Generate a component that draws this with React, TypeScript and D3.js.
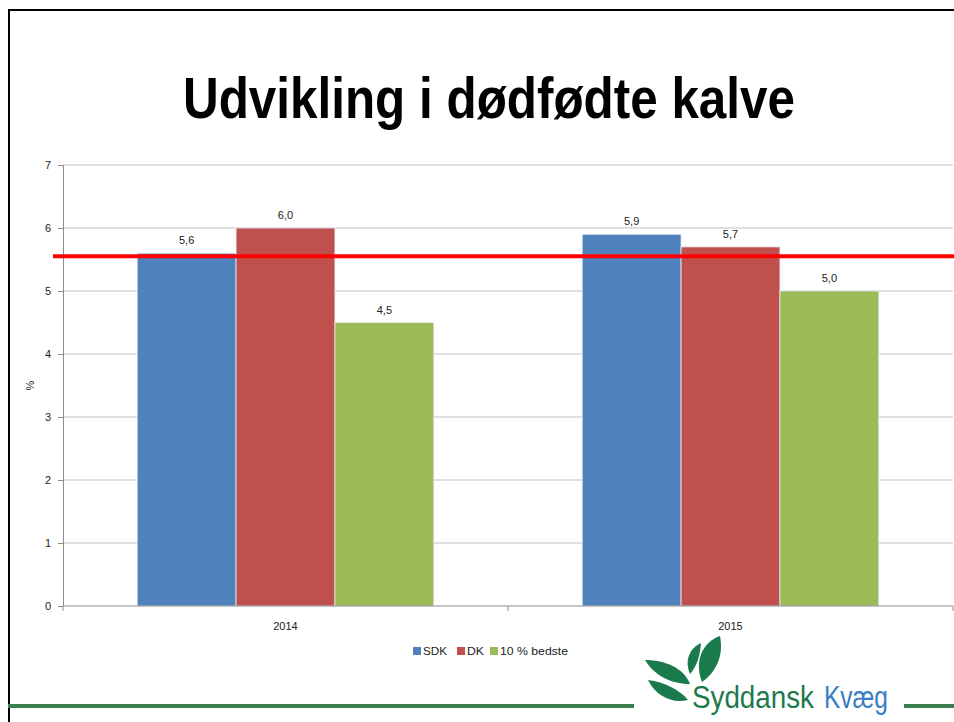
import React, { useRef, useEffect } from "react";
import * as d3 from "d3";

const categories = ["2014", "2015"];
const seriesNames = ["SDK", "DK", "10 % bedste"];
const sdkValues = [5.6, 5.9];
const dkValues = [6.0, 5.7];
const bestValues = [4.5, 5.0];
const yTicks = [0, 1, 2, 3, 4, 5, 6, 7];
const targetLine = 5.55;

const colors = ["#4f81bd", "#c0504d", "#9bbb59"];
const fmt = (v: number) => v.toFixed(1).replace(".", ",");

export default function App() {
  const ref = useRef<SVGSVGElement>(null);

  useEffect(() => {
    const width = 954, height = 722;
    const svg = d3.select(ref.current);
    svg.selectAll("*").remove();
    svg.attr("width", width).attr("height", height);

    svg.append("rect").attr("width", width).attr("height", height).attr("fill", "#fff");

    // slide frame
    svg.append("line").attr("x1", 8).attr("x2", width).attr("y1", 10).attr("y2", 10)
      .attr("stroke", "#000").attr("stroke-width", 2);
    svg.append("line").attr("x1", 9).attr("x2", 9).attr("y1", 10).attr("y2", height)
      .attr("stroke", "#000").attr("stroke-width", 2);

    svg.append("text")
      .attr("x", 183).attr("y", 118)
      .attr("textLength", 612).attr("lengthAdjust", "spacingAndGlyphs")
      .style("font-family", "'Liberation Sans', Arial, sans-serif")
      .style("font-weight", 700)
      .style("font-size", "58px")
      .attr("fill", "#000")
      .text("Udvikling i dødfødte kalve");

    const left = 63, right = 953, top = 165, bottom = 606;
    const x = d3.scaleBand().domain(categories).range([left, right]);
    const xs = d3.scaleBand().domain(seriesNames).range([0, x.bandwidth()]).paddingOuter(0.75).paddingInner(0);
    const y = d3.scaleLinear().domain([0, 7]).range([bottom, top]);

    const font = "'Liberation Sans', Arial, sans-serif";

    // grid
    svg.append("g").selectAll("line").data(yTicks.filter(t => t > 0)).join("line")
      .attr("x1", left).attr("x2", right)
      .attr("y1", d => y(d)).attr("y2", d => y(d))
      .attr("stroke", "#bfbfbf").attr("stroke-width", 1.2);

    // y axis
    const yAxis = svg.append("g").attr("transform", `translate(${left},0)`)
      .call(d3.axisLeft(y).tickValues(yTicks).tickSize(5).tickFormat(d => String(d)));
    yAxis.select(".domain").attr("stroke", "#8c8c8c");
    yAxis.selectAll(".tick line").attr("stroke", "#8c8c8c");
    yAxis.selectAll("text").attr("fill", "#222").style("font-family", font).style("font-size", "11px").attr("x", -12);

    svg.append("text")
      .attr("transform", `translate(34,${(top + bottom) / 2}) rotate(-90)`)
      .attr("text-anchor", "middle")
      .style("font-family", font).style("font-size", "11px").attr("fill", "#222")
      .text("%");

    // bars
    const data = [sdkValues, dkValues, bestValues];
    seriesNames.forEach((s, si) => {
      const g = svg.append("g");
      g.selectAll("rect").data(categories).join("rect")
        .attr("x", c => (x(c) as number) + (xs(s) as number))
        .attr("width", xs.bandwidth())
        .attr("y", (c, i) => y(data[si][i]))
        .attr("height", (c, i) => bottom - y(data[si][i]))
        .attr("fill", colors[si])
        .attr("stroke", "#e8eef5").attr("stroke-width", 0.8);
      g.selectAll("text").data(categories).join("text")
        .attr("x", c => (x(c) as number) + (xs(s) as number) + xs.bandwidth() / 2)
        .attr("y", (c, i) => y(data[si][i]) - 9)
        .attr("text-anchor", "middle")
        .style("font-family", font).style("font-size", "11px").attr("fill", "#222")
        .text((c, i) => fmt(data[si][i]));
    });

    // x axis
    const xAxis = svg.append("g").attr("transform", `translate(0,${bottom})`);
    xAxis.append("line").attr("x1", left).attr("x2", right).attr("stroke", "#8c8c8c");
    xAxis.selectAll("line.t").data([left, left + x.bandwidth(), right]).join("line")
      .attr("class", "t").attr("x1", d => d).attr("x2", d => d).attr("y1", 0).attr("y2", 5)
      .attr("stroke", "#8c8c8c");
    xAxis.selectAll("text").data(categories).join("text")
      .attr("x", c => (x(c) as number) + x.bandwidth() / 2).attr("y", 24)
      .attr("text-anchor", "middle")
      .style("font-family", font).style("font-size", "11px").attr("fill", "#222")
      .text(c => c);

    // target line
    svg.append("line").attr("x1", 53).attr("x2", width)
      .attr("y1", y(targetLine)).attr("y2", y(targetLine))
      .attr("stroke", "#ff0000").attr("stroke-width", 4);

    // legend
    const legendX = [413, 457, 490];
    const legendW = [24, 17, 68];
    const lg = svg.append("g");
    seriesNames.forEach((s, i) => {
      lg.append("rect").attr("x", legendX[i]).attr("y", 647).attr("width", 8).attr("height", 8).attr("fill", colors[i]);
      lg.append("text").attr("x", legendX[i] + 10).attr("y", 655)
        .attr("textLength", legendW[i]).attr("lengthAdjust", "spacingAndGlyphs")
        .style("font-family", font).style("font-size", "11px").attr("fill", "#222").text(s);
    });

    // bottom green rule + logo
    svg.append("line").attr("x1", 8).attr("x2", width).attr("y1", 706).attr("y2", 706)
      .attr("stroke", "#3b8150").attr("stroke-width", 4);
    svg.append("rect").attr("x", 634).attr("y", 635).attr("width", 270).attr("height", 87).attr("fill", "#fff");

    const leaf = "#1a7a4c";
    const logo = svg.append("g");
    // big upright leaf
    logo.append("path")
      .attr("d", "M702,682 C694,662 702,642 720,636 C724,656 716,672 702,682 Z")
      .attr("fill", leaf);
    // small leaf
    logo.append("path")
      .attr("d", "M690,674 C684,660 690,648 701,643 C700,656 697,666 690,674 Z")
      .attr("fill", leaf);
    // lower leaf
    logo.append("path")
      .attr("d", "M645,660 C665,660 684,668 690,684 C674,684 656,678 645,660 Z")
      .attr("fill", leaf);
    logo.append("path")
      .attr("d", "M648,680 C664,682 680,690 688,700 C672,704 656,696 648,680 Z")
      .attr("fill", leaf);

    const logoFont = "'Liberation Sans', Arial, sans-serif";
    logo.append("text").attr("x", 692).attr("y", 708)
      .attr("textLength", 122).attr("lengthAdjust", "spacingAndGlyphs")
      .style("font-family", logoFont).style("font-size", "31px").attr("fill", "#1b7a4c")
      .text("Syddansk");
    logo.append("text").attr("x", 824).attr("y", 708)
      .attr("textLength", 64).attr("lengthAdjust", "spacingAndGlyphs")
      .style("font-family", logoFont).style("font-size", "31px").attr("fill", "#3a7dc2")
      .text("Kvæg");
  }, []);

  return <svg ref={ref} style={{ display: "block", position: "absolute", left: 0, top: 0 }} />;
}
